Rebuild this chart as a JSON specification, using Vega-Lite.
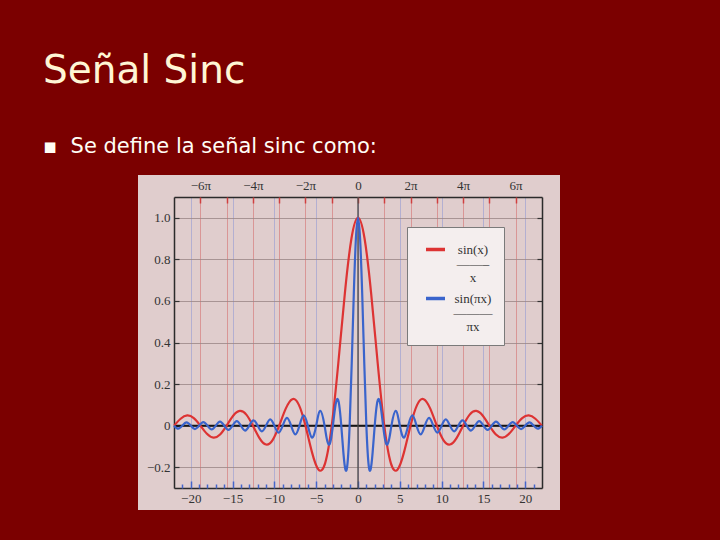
{
  "$schema": "https://vega.github.io/schema/vega-lite/v6.json",
  "width": 422,
  "height": 335,
  "autosize": {"type": "none"},
  "padding": {"left": 138, "top": 175, "right": 160, "bottom": 30},
  "background": "#7b0000",
  "title": {
    "text": "Señal Sinc",
    "subtitle": "▪\u00a0\u00a0Se define la señal sinc como:",
    "anchor": "start",
    "frame": "group",
    "dx": -95,
    "offset": 18,
    "font": "DejaVu Sans",
    "fontSize": 39,
    "fontWeight": "normal",
    "color": "#fff6d5",
    "subtitleFont": "DejaVu Sans",
    "subtitleFontSize": 21,
    "subtitleColor": "#fffdf5",
    "subtitlePadding": 45
  },
  "config": {
    "view": {"fill": "#e0cdcd", "stroke": null},
    "axis": {"labelFont": "Liberation Serif", "labelFontSize": 13, "labelColor": "#333333", "title": null, "labelOverlap": false, "labelBound": false, "labelFlush": false}
  },
  "data": {
    "values": [
      {"series": "sin(x)/x", "x": -21.991, "y": 0},
      {"series": "sin(x)/x", "x": -21.206, "y": 0.0333},
      {"series": "sin(x)/x", "x": -20.420, "y": 0.0490},
      {"series": "sin(x)/x", "x": -19.635, "y": 0.0360},
      {"series": "sin(x)/x", "x": -18.850, "y": 0},
      {"series": "sin(x)/x", "x": -18.064, "y": -0.0391},
      {"series": "sin(x)/x", "x": -17.279, "y": -0.0579},
      {"series": "sin(x)/x", "x": -16.493, "y": -0.0429},
      {"series": "sin(x)/x", "x": -15.708, "y": 0},
      {"series": "sin(x)/x", "x": -14.923, "y": 0.0474},
      {"series": "sin(x)/x", "x": -14.137, "y": 0.0707},
      {"series": "sin(x)/x", "x": -13.352, "y": 0.0530},
      {"series": "sin(x)/x", "x": -12.566, "y": 0},
      {"series": "sin(x)/x", "x": -11.781, "y": -0.0600},
      {"series": "sin(x)/x", "x": -10.996, "y": -0.0909},
      {"series": "sin(x)/x", "x": -10.210, "y": -0.0693},
      {"series": "sin(x)/x", "x": -9.425, "y": 0},
      {"series": "sin(x)/x", "x": -8.639, "y": 0.0818},
      {"series": "sin(x)/x", "x": -7.854, "y": 0.1273},
      {"series": "sin(x)/x", "x": -7.069, "y": 0.1000},
      {"series": "sin(x)/x", "x": -6.283, "y": 0},
      {"series": "sin(x)/x", "x": -5.498, "y": -0.1286},
      {"series": "sin(x)/x", "x": -4.712, "y": -0.2122},
      {"series": "sin(x)/x", "x": -3.927, "y": -0.1801},
      {"series": "sin(x)/x", "x": -3.142, "y": 0},
      {"series": "sin(x)/x", "x": -2.356, "y": 0.3001},
      {"series": "sin(x)/x", "x": -1.571, "y": 0.6366},
      {"series": "sin(x)/x", "x": -0.785, "y": 0.9003},
      {"series": "sin(x)/x", "x": 0, "y": 1},
      {"series": "sin(x)/x", "x": 0.785, "y": 0.9003},
      {"series": "sin(x)/x", "x": 1.571, "y": 0.6366},
      {"series": "sin(x)/x", "x": 2.356, "y": 0.3001},
      {"series": "sin(x)/x", "x": 3.142, "y": 0},
      {"series": "sin(x)/x", "x": 3.927, "y": -0.1801},
      {"series": "sin(x)/x", "x": 4.712, "y": -0.2122},
      {"series": "sin(x)/x", "x": 5.498, "y": -0.1286},
      {"series": "sin(x)/x", "x": 6.283, "y": 0},
      {"series": "sin(x)/x", "x": 7.069, "y": 0.1000},
      {"series": "sin(x)/x", "x": 7.854, "y": 0.1273},
      {"series": "sin(x)/x", "x": 8.639, "y": 0.0818},
      {"series": "sin(x)/x", "x": 9.425, "y": 0},
      {"series": "sin(x)/x", "x": 10.210, "y": -0.0693},
      {"series": "sin(x)/x", "x": 10.996, "y": -0.0909},
      {"series": "sin(x)/x", "x": 11.781, "y": -0.0600},
      {"series": "sin(x)/x", "x": 12.566, "y": 0},
      {"series": "sin(x)/x", "x": 13.352, "y": 0.0530},
      {"series": "sin(x)/x", "x": 14.137, "y": 0.0707},
      {"series": "sin(x)/x", "x": 14.923, "y": 0.0474},
      {"series": "sin(x)/x", "x": 15.708, "y": 0},
      {"series": "sin(x)/x", "x": 16.493, "y": -0.0429},
      {"series": "sin(x)/x", "x": 17.279, "y": -0.0579},
      {"series": "sin(x)/x", "x": 18.064, "y": -0.0391},
      {"series": "sin(x)/x", "x": 18.850, "y": 0},
      {"series": "sin(x)/x", "x": 19.635, "y": 0.0360},
      {"series": "sin(x)/x", "x": 20.420, "y": 0.0490},
      {"series": "sin(x)/x", "x": 21.206, "y": 0.0333},
      {"series": "sin(x)/x", "x": 21.991, "y": 0},

      {"series": "sin(πx)/(πx)", "x": -22, "y": 0},
      {"series": "sin(πx)/(πx)", "x": -21.5, "y": -0.0148},
      {"series": "sin(πx)/(πx)", "x": -21, "y": 0},
      {"series": "sin(πx)/(πx)", "x": -20.5, "y": 0.0155},
      {"series": "sin(πx)/(πx)", "x": -20, "y": 0},
      {"series": "sin(πx)/(πx)", "x": -19.5, "y": -0.0163},
      {"series": "sin(πx)/(πx)", "x": -19, "y": 0},
      {"series": "sin(πx)/(πx)", "x": -18.5, "y": 0.0172},
      {"series": "sin(πx)/(πx)", "x": -18, "y": 0},
      {"series": "sin(πx)/(πx)", "x": -17.5, "y": -0.0182},
      {"series": "sin(πx)/(πx)", "x": -17, "y": 0},
      {"series": "sin(πx)/(πx)", "x": -16.5, "y": 0.0193},
      {"series": "sin(πx)/(πx)", "x": -16, "y": 0},
      {"series": "sin(πx)/(πx)", "x": -15.5, "y": -0.0205},
      {"series": "sin(πx)/(πx)", "x": -15, "y": 0},
      {"series": "sin(πx)/(πx)", "x": -14.5, "y": 0.0220},
      {"series": "sin(πx)/(πx)", "x": -14, "y": 0},
      {"series": "sin(πx)/(πx)", "x": -13.5, "y": -0.0236},
      {"series": "sin(πx)/(πx)", "x": -13, "y": 0},
      {"series": "sin(πx)/(πx)", "x": -12.5, "y": 0.0255},
      {"series": "sin(πx)/(πx)", "x": -12, "y": 0},
      {"series": "sin(πx)/(πx)", "x": -11.5, "y": -0.0277},
      {"series": "sin(πx)/(πx)", "x": -11, "y": 0},
      {"series": "sin(πx)/(πx)", "x": -10.5, "y": 0.0303},
      {"series": "sin(πx)/(πx)", "x": -10, "y": 0},
      {"series": "sin(πx)/(πx)", "x": -9.5, "y": -0.0335},
      {"series": "sin(πx)/(πx)", "x": -9, "y": 0},
      {"series": "sin(πx)/(πx)", "x": -8.5, "y": 0.0374},
      {"series": "sin(πx)/(πx)", "x": -8, "y": 0},
      {"series": "sin(πx)/(πx)", "x": -7.5, "y": -0.0424},
      {"series": "sin(πx)/(πx)", "x": -7, "y": 0},
      {"series": "sin(πx)/(πx)", "x": -6.5, "y": 0.0490},
      {"series": "sin(πx)/(πx)", "x": -6, "y": 0},
      {"series": "sin(πx)/(πx)", "x": -5.5, "y": -0.0579},
      {"series": "sin(πx)/(πx)", "x": -5, "y": 0},
      {"series": "sin(πx)/(πx)", "x": -4.5, "y": 0.0707},
      {"series": "sin(πx)/(πx)", "x": -4, "y": 0},
      {"series": "sin(πx)/(πx)", "x": -3.75, "y": -0.0600},
      {"series": "sin(πx)/(πx)", "x": -3.5, "y": -0.0909},
      {"series": "sin(πx)/(πx)", "x": -3.25, "y": -0.0693},
      {"series": "sin(πx)/(πx)", "x": -3, "y": 0},
      {"series": "sin(πx)/(πx)", "x": -2.75, "y": 0.0818},
      {"series": "sin(πx)/(πx)", "x": -2.5, "y": 0.1273},
      {"series": "sin(πx)/(πx)", "x": -2.25, "y": 0.1000},
      {"series": "sin(πx)/(πx)", "x": -2, "y": 0},
      {"series": "sin(πx)/(πx)", "x": -1.75, "y": -0.1286},
      {"series": "sin(πx)/(πx)", "x": -1.5, "y": -0.2122},
      {"series": "sin(πx)/(πx)", "x": -1.25, "y": -0.1801},
      {"series": "sin(πx)/(πx)", "x": -1, "y": 0},
      {"series": "sin(πx)/(πx)", "x": -0.75, "y": 0.3001},
      {"series": "sin(πx)/(πx)", "x": -0.5, "y": 0.6366},
      {"series": "sin(πx)/(πx)", "x": -0.25, "y": 0.9003},
      {"series": "sin(πx)/(πx)", "x": 0, "y": 1},
      {"series": "sin(πx)/(πx)", "x": 0.25, "y": 0.9003},
      {"series": "sin(πx)/(πx)", "x": 0.5, "y": 0.6366},
      {"series": "sin(πx)/(πx)", "x": 0.75, "y": 0.3001},
      {"series": "sin(πx)/(πx)", "x": 1, "y": 0},
      {"series": "sin(πx)/(πx)", "x": 1.25, "y": -0.1801},
      {"series": "sin(πx)/(πx)", "x": 1.5, "y": -0.2122},
      {"series": "sin(πx)/(πx)", "x": 1.75, "y": -0.1286},
      {"series": "sin(πx)/(πx)", "x": 2, "y": 0},
      {"series": "sin(πx)/(πx)", "x": 2.25, "y": 0.1000},
      {"series": "sin(πx)/(πx)", "x": 2.5, "y": 0.1273},
      {"series": "sin(πx)/(πx)", "x": 2.75, "y": 0.0818},
      {"series": "sin(πx)/(πx)", "x": 3, "y": 0},
      {"series": "sin(πx)/(πx)", "x": 3.25, "y": -0.0693},
      {"series": "sin(πx)/(πx)", "x": 3.5, "y": -0.0909},
      {"series": "sin(πx)/(πx)", "x": 3.75, "y": -0.0600},
      {"series": "sin(πx)/(πx)", "x": 4, "y": 0},
      {"series": "sin(πx)/(πx)", "x": 4.5, "y": 0.0707},
      {"series": "sin(πx)/(πx)", "x": 5, "y": 0},
      {"series": "sin(πx)/(πx)", "x": 5.5, "y": -0.0579},
      {"series": "sin(πx)/(πx)", "x": 6, "y": 0},
      {"series": "sin(πx)/(πx)", "x": 6.5, "y": 0.0490},
      {"series": "sin(πx)/(πx)", "x": 7, "y": 0},
      {"series": "sin(πx)/(πx)", "x": 7.5, "y": -0.0424},
      {"series": "sin(πx)/(πx)", "x": 8, "y": 0},
      {"series": "sin(πx)/(πx)", "x": 8.5, "y": 0.0374},
      {"series": "sin(πx)/(πx)", "x": 9, "y": 0},
      {"series": "sin(πx)/(πx)", "x": 9.5, "y": -0.0335},
      {"series": "sin(πx)/(πx)", "x": 10, "y": 0},
      {"series": "sin(πx)/(πx)", "x": 10.5, "y": 0.0303},
      {"series": "sin(πx)/(πx)", "x": 11, "y": 0},
      {"series": "sin(πx)/(πx)", "x": 11.5, "y": -0.0277},
      {"series": "sin(πx)/(πx)", "x": 12, "y": 0},
      {"series": "sin(πx)/(πx)", "x": 12.5, "y": 0.0255},
      {"series": "sin(πx)/(πx)", "x": 13, "y": 0},
      {"series": "sin(πx)/(πx)", "x": 13.5, "y": -0.0236},
      {"series": "sin(πx)/(πx)", "x": 14, "y": 0},
      {"series": "sin(πx)/(πx)", "x": 14.5, "y": 0.0220},
      {"series": "sin(πx)/(πx)", "x": 15, "y": 0},
      {"series": "sin(πx)/(πx)", "x": 15.5, "y": -0.0205},
      {"series": "sin(πx)/(πx)", "x": 16, "y": 0},
      {"series": "sin(πx)/(πx)", "x": 16.5, "y": 0.0193},
      {"series": "sin(πx)/(πx)", "x": 17, "y": 0},
      {"series": "sin(πx)/(πx)", "x": 17.5, "y": -0.0182},
      {"series": "sin(πx)/(πx)", "x": 18, "y": 0},
      {"series": "sin(πx)/(πx)", "x": 18.5, "y": 0.0172},
      {"series": "sin(πx)/(πx)", "x": 19, "y": 0},
      {"series": "sin(πx)/(πx)", "x": 19.5, "y": -0.0163},
      {"series": "sin(πx)/(πx)", "x": 20, "y": 0},
      {"series": "sin(πx)/(πx)", "x": 20.5, "y": 0.0155},
      {"series": "sin(πx)/(πx)", "x": 21, "y": 0},
      {"series": "sin(πx)/(πx)", "x": 21.5, "y": -0.0148},
      {"series": "sin(πx)/(πx)", "x": 22, "y": 0}
    ]
  },
  "layer": [
    {
      "data": {"values": [{}]},
      "mark": {"type": "rule", "color": "#151515", "strokeWidth": 2},
      "encoding": {
        "x": {"datum": -22, "type": "quantitative",
          "scale": {"domain": [-22, 22], "range": [36, 404], "nice": false, "zero": false},
          "axis": {"orient": "top", "offset": -22, "ticks": false, "labelPadding": 5,
            "values": [-18.8496, -15.708, -12.5664, -9.4248, -6.2832, -3.1416, 0, 3.1416, 6.2832, 9.4248, 12.5664, 15.708, 18.8496],
            "labelExpr": "datum.value == 0 ? '0' : (round(datum.value / PI) % 2 != 0 ? '' : (datum.value < 0 ? '−' : '') + abs(round(datum.value / PI)) + 'π')",
            "grid": true, "gridColor": "#d46a6a", "gridOpacity": 0.55, "gridWidth": 1,
            "domain": true, "domainColor": "#2b2b2b", "domainWidth": 1.5}},
        "x2": {"datum": 22},
        "y": {"datum": 0, "type": "quantitative",
          "scale": {"domain": [-0.3, 1.1], "range": [313, 22], "nice": false, "zero": false},
          "axis": {"orient": "left", "offset": -36, "ticks": false, "labelPadding": 4,
            "values": [-0.2, 0, 0.2, 0.4, 0.6, 0.8, 1.0],
            "labelExpr": "datum.value == 0 ? '0' : replace(format(datum.value, '.1f'), '-', '−')",
            "grid": true, "gridColor": "#9a8686", "gridOpacity": 0.8, "gridWidth": 1,
            "domain": true, "domainColor": "#2b2b2b", "domainWidth": 1.5}}
      }
    },
    {
      "data": {"values": [{}]},
      "mark": {"type": "rule", "color": "#4a4a4a", "strokeWidth": 1.3},
      "encoding": {
        "x": {"datum": 0, "type": "quantitative",
          "scale": {"domain": [-22, 22], "range": [36, 404], "nice": false, "zero": false},
          "axis": {"orient": "bottom", "offset": -22, "ticks": false, "labelPadding": 4,
            "values": [-20, -15, -10, -5, 0, 5, 10, 15, 20],
            "labelExpr": "replace(datum.label, '-', '−')",
            "grid": true, "gridColor": "#8e98d6", "gridOpacity": 0.55, "gridWidth": 1,
            "domain": true, "domainColor": "#2b2b2b", "domainWidth": 1.5}},
        "y": {"datum": -0.3, "type": "quantitative",
          "scale": {"domain": [-0.3, 1.1], "range": [313, 22], "nice": false, "zero": false},
          "axis": {"orient": "left", "offset": -404, "labels": false, "grid": false,
            "values": [-0.2, 0, 0.2, 0.4, 0.6, 0.8, 1.0],
            "ticks": true, "tickSize": 5, "tickColor": "#333333", "tickWidth": 1.2,
            "domain": true, "domainColor": "#2b2b2b", "domainWidth": 1.5}},
        "y2": {"datum": 1.1}
      }
    },
    {
      "transform": [{"filter": "datum.series == 'sin(x)/x'"}],
      "mark": {"type": "line", "interpolate": "natural", "strokeWidth": 2.2},
      "encoding": {
        "x": {"field": "x", "type": "quantitative",
          "scale": {"domain": [-22, 22], "range": [36, 404], "nice": false, "zero": false},
          "axis": {"orient": "top", "offset": -313, "labels": false, "grid": false, "domain": false,
            "values": [-21, -20, -19, -18, -17, -16, -15, -14, -13, -12, -11, -10, -9, -8, -7, -6, -5, -4, -3, -2, -1, 0, 1, 2, 3, 4, 5, 6, 7, 8, 9, 10, 11, 12, 13, 14, 15, 16, 17, 18, 19, 20, 21],
            "ticks": true, "tickColor": "#4466cc", "tickWidth": 1.5,
            "tickSize": {"condition": {"test": "datum.value % 5 == 0", "value": 7}, "value": 4}}},
        "y": {"field": "y", "type": "quantitative",
          "scale": {"domain": [-0.3, 1.1], "range": [313, 22], "nice": false, "zero": false},
          "axis": {"orient": "right", "offset": -386, "labels": false, "grid": false, "domain": false,
            "values": [-0.2, 0, 0.2, 0.4, 0.6, 0.8, 1.0],
            "ticks": true, "tickSize": 5, "tickColor": "#333333", "tickWidth": 1.2}},
        "color": {"field": "series", "type": "nominal",
          "scale": {"domain": ["sin(x)/x", "sin(πx)/(πx)"], "range": ["#dd3333", "#3a64cc"]},
          "legend": {"orient": "none", "legendX": 269, "legendY": 52, "title": null,
            "fillColor": "#f4eeee", "strokeColor": "#7a7a7a", "padding": 11,
            "symbolType": "stroke", "symbolStrokeWidth": 3.5, "symbolSize": 361, "symbolOffset": 6,
            "labelFont": "Liberation Serif", "labelFontSize": 13, "labelColor": "#333333",
            "labelAlign": "center", "labelOffset": 26, "rowPadding": 2, "labelLimit": 0,
            "labelExpr": "datum.value == 'sin(x)/x' ? ['sin(x)', '——–', 'x'] : ['sin(πx)', '———', 'πx']",
            "encode": {"labels": {"update": {"lineHeight": {"value": 14}}}}}}
      }
    },
    {
      "transform": [{"filter": "datum.series == 'sin(πx)/(πx)'"}],
      "mark": {"type": "line", "interpolate": "natural", "strokeWidth": 2.2},
      "encoding": {
        "x": {"field": "x", "type": "quantitative",
          "scale": {"domain": [-22, 22], "range": [36, 404], "nice": false, "zero": false},
          "axis": {"orient": "bottom", "offset": -313, "labels": false, "grid": false, "domain": false,
            "values": [-18.8496, -15.708, -12.5664, -9.4248, -6.2832, -3.1416, 0, 3.1416, 6.2832, 9.4248, 12.5664, 15.708, 18.8496],
            "ticks": true, "tickColor": "#d04040", "tickWidth": 1.5, "tickSize": 6}},
        "y": {"field": "y", "type": "quantitative",
          "scale": {"domain": [-0.3, 1.1], "range": [313, 22], "nice": false, "zero": false},
          "axis": null},
        "color": {"field": "series", "type": "nominal",
          "scale": {"domain": ["sin(x)/x", "sin(πx)/(πx)"], "range": ["#dd3333", "#3a64cc"]}}
      }
    }
  ],
  "resolve": {"axis": {"x": "independent", "y": "independent"}}
}
